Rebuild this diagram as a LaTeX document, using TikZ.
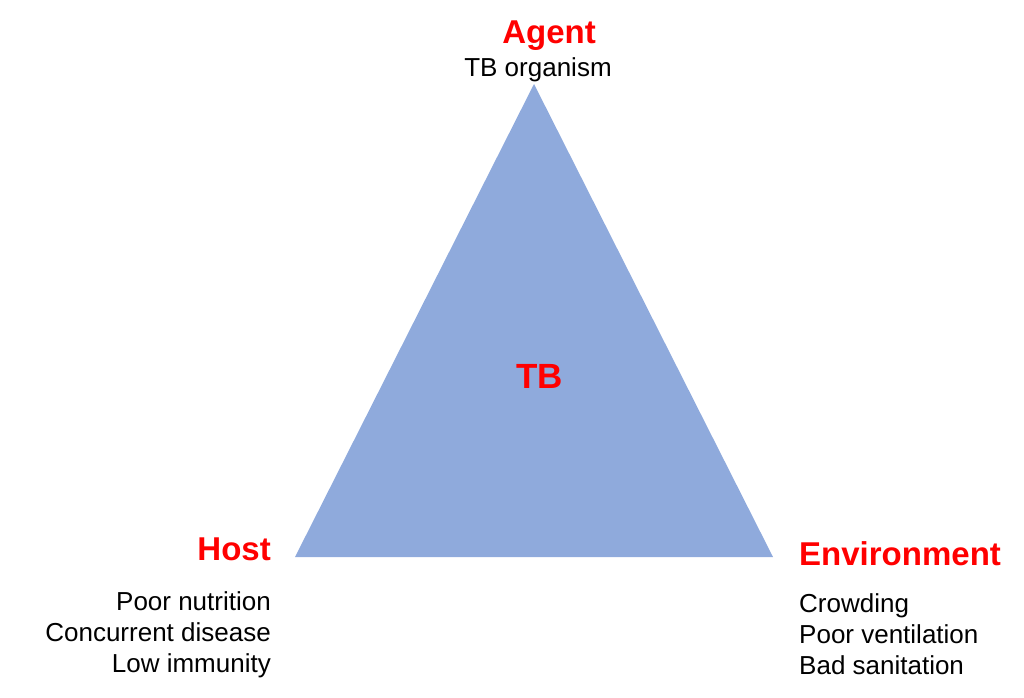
\documentclass[tikz,border=0pt]{standalone}
\usepackage{fontspec}
\setmainfont{Liberation Sans}
\definecolor{triblue}{HTML}{8FAADC}
\definecolor{labred}{HTML}{FF0000}
\begin{document}
\begin{tikzpicture}[
            x=1pt, y=-1pt,
            every node/.style={inner sep=0pt},
            corner/.style={text=labred, font=\bfseries\fontsize{33}{40}\selectfont},
            factor/.style={font=\fontsize{26}{31}\selectfont},
            ]
            \useasboundingbox (0,0) rectangle (1024,697);
            \coordinate (top) at (534,84);
            \coordinate (left) at (295,557);
            \coordinate (right) at (773,557);
            \fill[triblue] (top) -- (left) -- (right) -- cycle;
            \node[text=labred, font=\bfseries\fontsize{35}{42}\selectfont, anchor=base] (tb) at (539.5,388) {TB};
            % corner labels
            \node[corner, anchor=base] (agent) at (549,43) {Agent};
            \node[factor, anchor=base] (agentfac) at (538,76) {TB organism};
            \node[corner, anchor=base east] (host) at (271,560) {Host};
            \node[factor, anchor=base east, align=right] (hostfac) at (271,672)
              {Poor nutrition\\Concurrent disease\\Low immunity};
            \node[corner, anchor=base west] (env) at (799,565) {Environment};
            \node[factor, anchor=base west, align=left] (envfac) at (799,674)
              {Crowding\\Poor ventilation\\Bad sanitation};
\end{tikzpicture}
\end{document}
